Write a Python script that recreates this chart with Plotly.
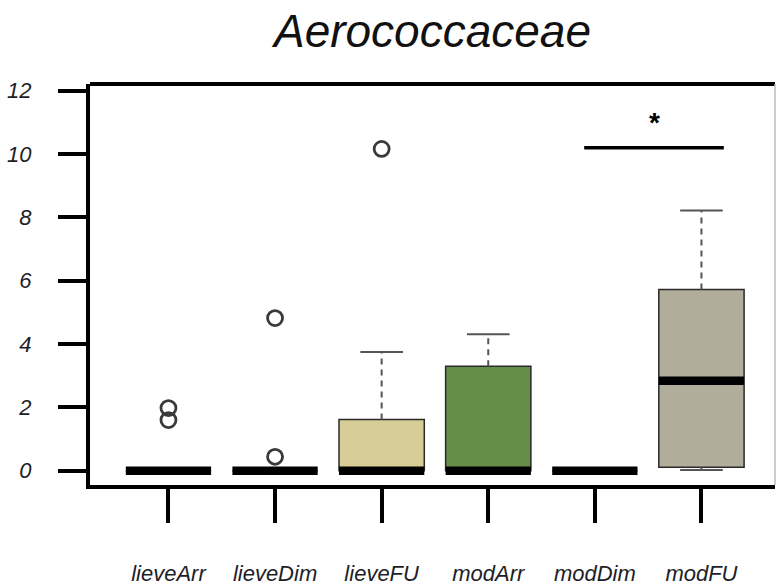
import plotly.graph_objects as go

# Group labels and box statistics (relative abundance, %)
groups = ["lieveArr", "lieveDim", "lieveFU", "modArr", "modDim", "modFU"]
q1 = [0.0, 0.0, 0.0, 0.0, 0.0, 0.11]
median = [0.0, 0.0, 0.0, 0.0, 0.0, 2.84]
q3 = [0.0, 0.0, 1.62, 3.30, 0.0, 5.72]
lower_whisker = [0.0, 0.0, 0.0, 0.0, 0.0, 0.02]
upper_whisker = [0.0, 0.0, 3.75, 4.31, 0.0, 8.22]
outliers = [[1.60, 1.98], [4.82, 0.44], [10.16], [], [], []]
fill_colors = ["#ffffff", "#ffffff", "#D7CD97", "#658E48", "#ffffff", "#B0AD9B"]

y_ticks = [0, 2, 4, 6, 8, 10, 12]

# Significance bracket between modDim and modFU
sig_x = [4.90, 6.21]
sig_y = 10.2
sig_label = "*"

title_text = "Aerococcaceae"

positions = list(range(1, len(groups) + 1))
box_w = 0.8
cap_half = box_w / 4

fig = go.Figure()

for i, pos in enumerate(positions):
    # box body
    fig.add_trace(go.Box(
        x=[pos], q1=[q1[i]], median=[median[i]], q3=[q3[i]],
        lowerfence=[q1[i]], upperfence=[q3[i]],
        width=box_w, whiskerwidth=0,
        fillcolor=fill_colors[i],
        line=dict(color="#2a2a2a", width=1.5),
        boxpoints=False, hoverinfo="skip",
    ))
    # dashed whiskers with solid caps
    for end, start in ((upper_whisker[i], q3[i]), (lower_whisker[i], q1[i])):
        if end != start:
            fig.add_trace(go.Scatter(
                x=[pos, pos], y=[start, end], mode="lines",
                line=dict(color="#555555", width=2, dash="6px,5px"),
                hoverinfo="skip",
            ))
            fig.add_trace(go.Scatter(
                x=[pos - cap_half, pos + cap_half], y=[end, end], mode="lines",
                line=dict(color="#555555", width=2), hoverinfo="skip",
            ))
    # heavy median bar
    fig.add_trace(go.Scatter(
        x=[pos - box_w / 2, pos + box_w / 2], y=[median[i], median[i]],
        mode="lines", line=dict(color="#000000", width=8.5), hoverinfo="skip",
    ))
    # outlying points
    if outliers[i]:
        fig.add_trace(go.Scatter(
            x=[pos] * len(outliers[i]), y=outliers[i], mode="markers",
            marker=dict(symbol="circle-open", size=15, color="#3a3a3a",
                        line=dict(width=2.8, color="#3a3a3a")),
            hoverinfo="skip",
        ))

# significance line and star
fig.add_trace(go.Scatter(
    x=sig_x, y=[sig_y, sig_y], mode="lines",
    line=dict(color="#000000", width=3.5), hoverinfo="skip",
))
fig.add_annotation(
    x=sum(sig_x) / 2, y=sig_y, yshift=25, text="<b>" + sig_label + "</b>",
    showarrow=False,
    font=dict(family="Liberation Sans", size=28, color="#000000"),
)

# plot frame: heavy top edge, light right edge
fig.add_shape(type="line", xref="paper", yref="paper", x0=0, x1=1, y0=1, y1=1,
              line=dict(color="#000000", width=4))
fig.add_shape(type="line", xref="paper", yref="paper", x0=1, x1=1, y0=0, y1=1,
              line=dict(color="#bbbbbb", width=1.5))

tick_font = dict(family="Liberation Sans", size=22, color="#1e1e28", style="italic")

fig.update_layout(
    width=776, height=586,
    margin=dict(l=90, r=1, t=84, b=101),
    paper_bgcolor="white", plot_bgcolor="white",
    showlegend=False,
    title=dict(
        text=title_text, x=0.5, xref="paper",
        y=1 - 31 / 586, yref="container", yanchor="middle",
        font=dict(family="Liberation Sans", size=46, color="#111111", style="italic"),
    ),
    xaxis=dict(
        range=[0.264, 6.69], tickmode="array", tickvals=positions, ticktext=groups,
        showline=True, linecolor="#000000", linewidth=4,
        ticks="outside", ticklen=34, tickwidth=4, tickcolor="#000000",
        showgrid=False, zeroline=False, tickfont=tick_font,
        ticklabelstandoff=32, automargin=False,
    ),
    yaxis=dict(
        range=[-0.45, 12.21], tickmode="array", tickvals=y_ticks,
        showline=True, linecolor="#000000", linewidth=4,
        ticks="outside", ticklen=28, tickwidth=4, tickcolor="#000000",
        showgrid=False, zeroline=False, tickfont=tick_font,
        ticklabelstandoff=22, automargin=False,
    ),
)

fig.write_html("out.html")
